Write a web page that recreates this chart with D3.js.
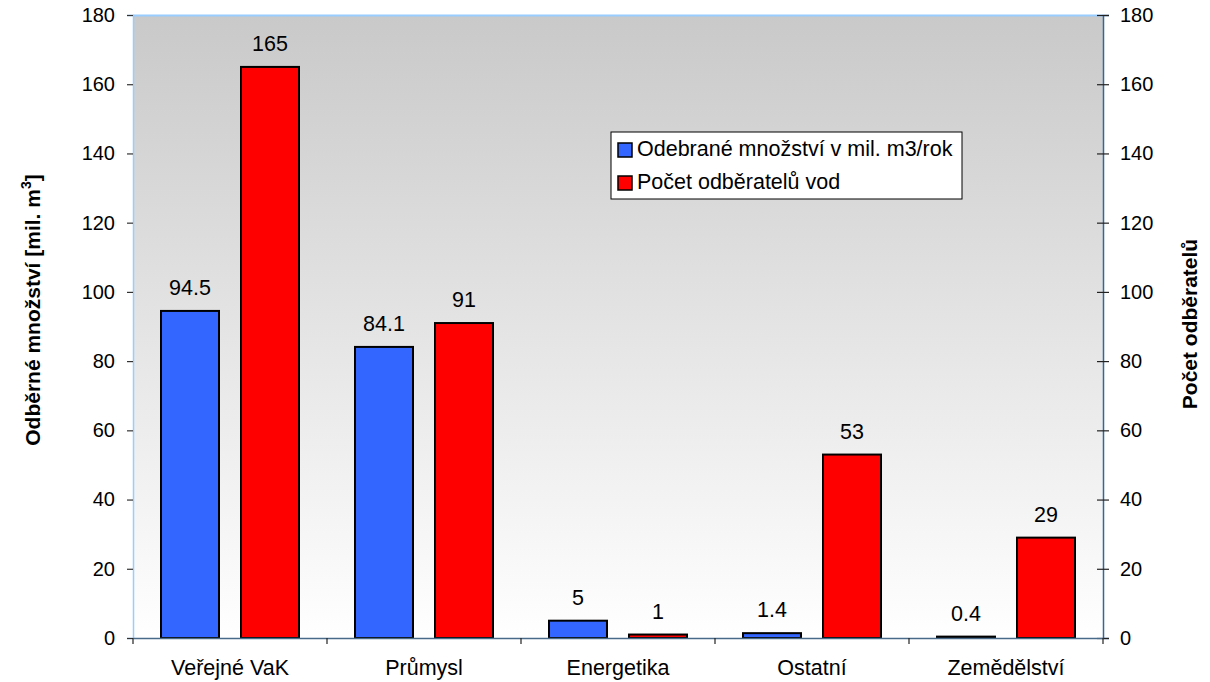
<!DOCTYPE html>
<html>
<head>
<meta charset="utf-8">
<script src="https://cdn.jsdelivr.net/npm/d3@7"></script>
<style>
  html, body { margin: 0; padding: 0; background: #fff; }
  svg { display: block; font-family: "Liberation Sans", Arial, sans-serif; }
</style>
</head>
<body>
<svg id="chart" width="1210" height="682"></svg>
<script>
// Odběr vod podle kategorií odběratelů
const categories = ["Veřejné VaK", "Průmysl", "Energetika", "Ostatní", "Zemědělství"];
const volumeValues = [94.5, 84.1, 5, 1.4, 0.4];     // mil. m3/rok
const consumerCounts = [165, 91, 1, 53, 29];         // počet odběratelů
const seriesNames = ["Odebrané množství v mil. m3/rok", "Počet odběratelů vod"];
const seriesColors = ["#3366ff", "#ff0000"];
const leftTicks = [0, 20, 40, 60, 80, 100, 120, 140, 160, 180];
const rightTicks = [0, 20, 40, 60, 80, 100, 120, 140, 160, 180];

const W = 1210, H = 682;
const margin = { top: 15, right: 107, bottom: 44, left: 133 };
const pw = W - margin.left - margin.right;
const ph = H - margin.top - margin.bottom;
const FONT = "Liberation Sans, Arial, sans-serif";

const svg = d3.select("#chart");

// plot background gradient
const defs = svg.append("defs");
const grad = defs.append("linearGradient").attr("id", "bg")
  .attr("x1", 0).attr("y1", 0).attr("x2", 0).attr("y2", 1);
grad.append("stop").attr("offset", "0%").attr("stop-color", "#c9c9c9");
grad.append("stop").attr("offset", "100%").attr("stop-color", "#ffffff");

const g = svg.append("g").attr("transform", `translate(${margin.left},${margin.top})`);

g.append("rect").attr("width", pw).attr("height", ph).attr("fill", "url(#bg)");

const x = d3.scaleBand().domain(categories).range([0, pw]).padding(0);
const xs = d3.scaleBand().domain([0, 1]).range([0, x.bandwidth()])
  .paddingInner(0.275).paddingOuter(0.35);
const yL = d3.scaleLinear().domain([0, 180]).range([ph, 0]);
const yR = d3.scaleLinear().domain([0, 180]).range([ph, 0]);

// top border
g.append("line").attr("x1", 0).attr("x2", pw).attr("y1", 0.5).attr("y2", 0.5)
  .attr("stroke", "#99ccff").attr("stroke-width", 2);

// left axis
const axL = g.append("g").call(d3.axisLeft(yL).tickValues(leftTicks).tickSize(6).tickPadding(12));
axL.select(".domain").attr("stroke", "#99ccff").attr("stroke-width", 1.5);
axL.selectAll(".tick line").attr("stroke", "#333").attr("stroke-width", 1.2);
axL.selectAll(".tick text").attr("font-size", 20).attr("fill", "#000").attr("font-family", FONT);

// right axis (ticks cross the line)
const axR = g.append("g").attr("transform", `translate(${pw},0)`)
  .call(d3.axisRight(yR).tickValues(rightTicks).tickSize(6).tickPadding(11));
axR.select(".domain").attr("stroke", "#336699").attr("stroke-width", 1.5);
axR.selectAll(".tick line").attr("x1", -6).attr("stroke", "#222").attr("stroke-width", 1.2);
axR.selectAll(".tick text").attr("font-size", 20).attr("fill", "#000").attr("font-family", FONT);

// bars
const rows = categories.map((c, i) => ({ c, vals: [volumeValues[i], consumerCounts[i]] }));
const scales = [yL, yR];
const cg = g.selectAll(".cat").data(rows).join("g")
  .attr("class", "cat").attr("transform", d => `translate(${x(d.c)},0)`);

cg.selectAll("rect").data(d => d.vals.map((v, k) => ({ v, k }))).join("rect")
  .attr("x", d => xs(d.k))
  .attr("width", xs.bandwidth())
  .attr("y", d => scales[d.k](d.v))
  .attr("height", d => ph - scales[d.k](d.v))
  .attr("fill", d => seriesColors[d.k])
  .attr("stroke", "#000").attr("stroke-width", 2);

cg.selectAll("text.val").data(d => d.vals.map((v, k) => ({ v, k }))).join("text")
  .attr("class", "val")
  .attr("x", d => xs(d.k) + xs.bandwidth() / 2)
  .attr("y", d => scales[d.k](d.v) - 16)
  .attr("text-anchor", "middle").attr("font-size", 21.5).attr("fill", "#000")
  .text(d => d.v);

// bottom axis
const axB = g.append("g").attr("transform", `translate(0,${ph})`)
  .call(d3.axisBottom(x).tickSize(0).tickPadding(22));
axB.select(".domain").attr("stroke", "#4a6a8a").attr("stroke-width", 1.5);
axB.selectAll(".tick text").attr("font-size", 21.5).attr("fill", "#000").attr("font-family", FONT);
// category separators
axB.selectAll(".sep").data(d3.range(categories.length + 1)).join("line")
  .attr("class", "sep")
  .attr("x1", i => i * x.step()).attr("x2", i => i * x.step())
  .attr("y1", 0).attr("y2", 6)
  .attr("stroke", "#222").attr("stroke-width", 1.2);

// axis titles
const tL = svg.append("text")
  .attr("transform", "translate(40,310) rotate(-90)")
  .attr("text-anchor", "middle").attr("font-size", 21).attr("font-weight", "bold");
tL.append("tspan").text("Odběrné množství [mil. m");
tL.append("tspan").attr("font-size", 14).attr("dy", -9).text("3");
tL.append("tspan").attr("dy", 9).text("]");

svg.append("text")
  .attr("transform", "translate(1197,324) rotate(-90)")
  .attr("text-anchor", "middle").attr("font-size", 21).attr("font-weight", "bold")
  .text("Počet odběratelů");

// legend
const lg = svg.append("g").attr("transform", "translate(611,132)");
lg.append("rect").attr("width", 351).attr("height", 67)
  .attr("fill", "#fff").attr("stroke", "#000").attr("stroke-width", 1);
seriesNames.forEach((name, i) => {
  const row = lg.append("g").attr("transform", `translate(0,${10 + i * 33})`);
  row.append("rect").attr("x", 7).attr("y", 1).attr("width", 14).attr("height", 14)
    .attr("fill", seriesColors[i]).attr("stroke", "#000").attr("stroke-width", 1.5);
  row.append("text").attr("x", 26).attr("y", 14).attr("font-size", 21.5).attr("fill", "#000")
    .text(name);
});
</script>
</body>
</html>
